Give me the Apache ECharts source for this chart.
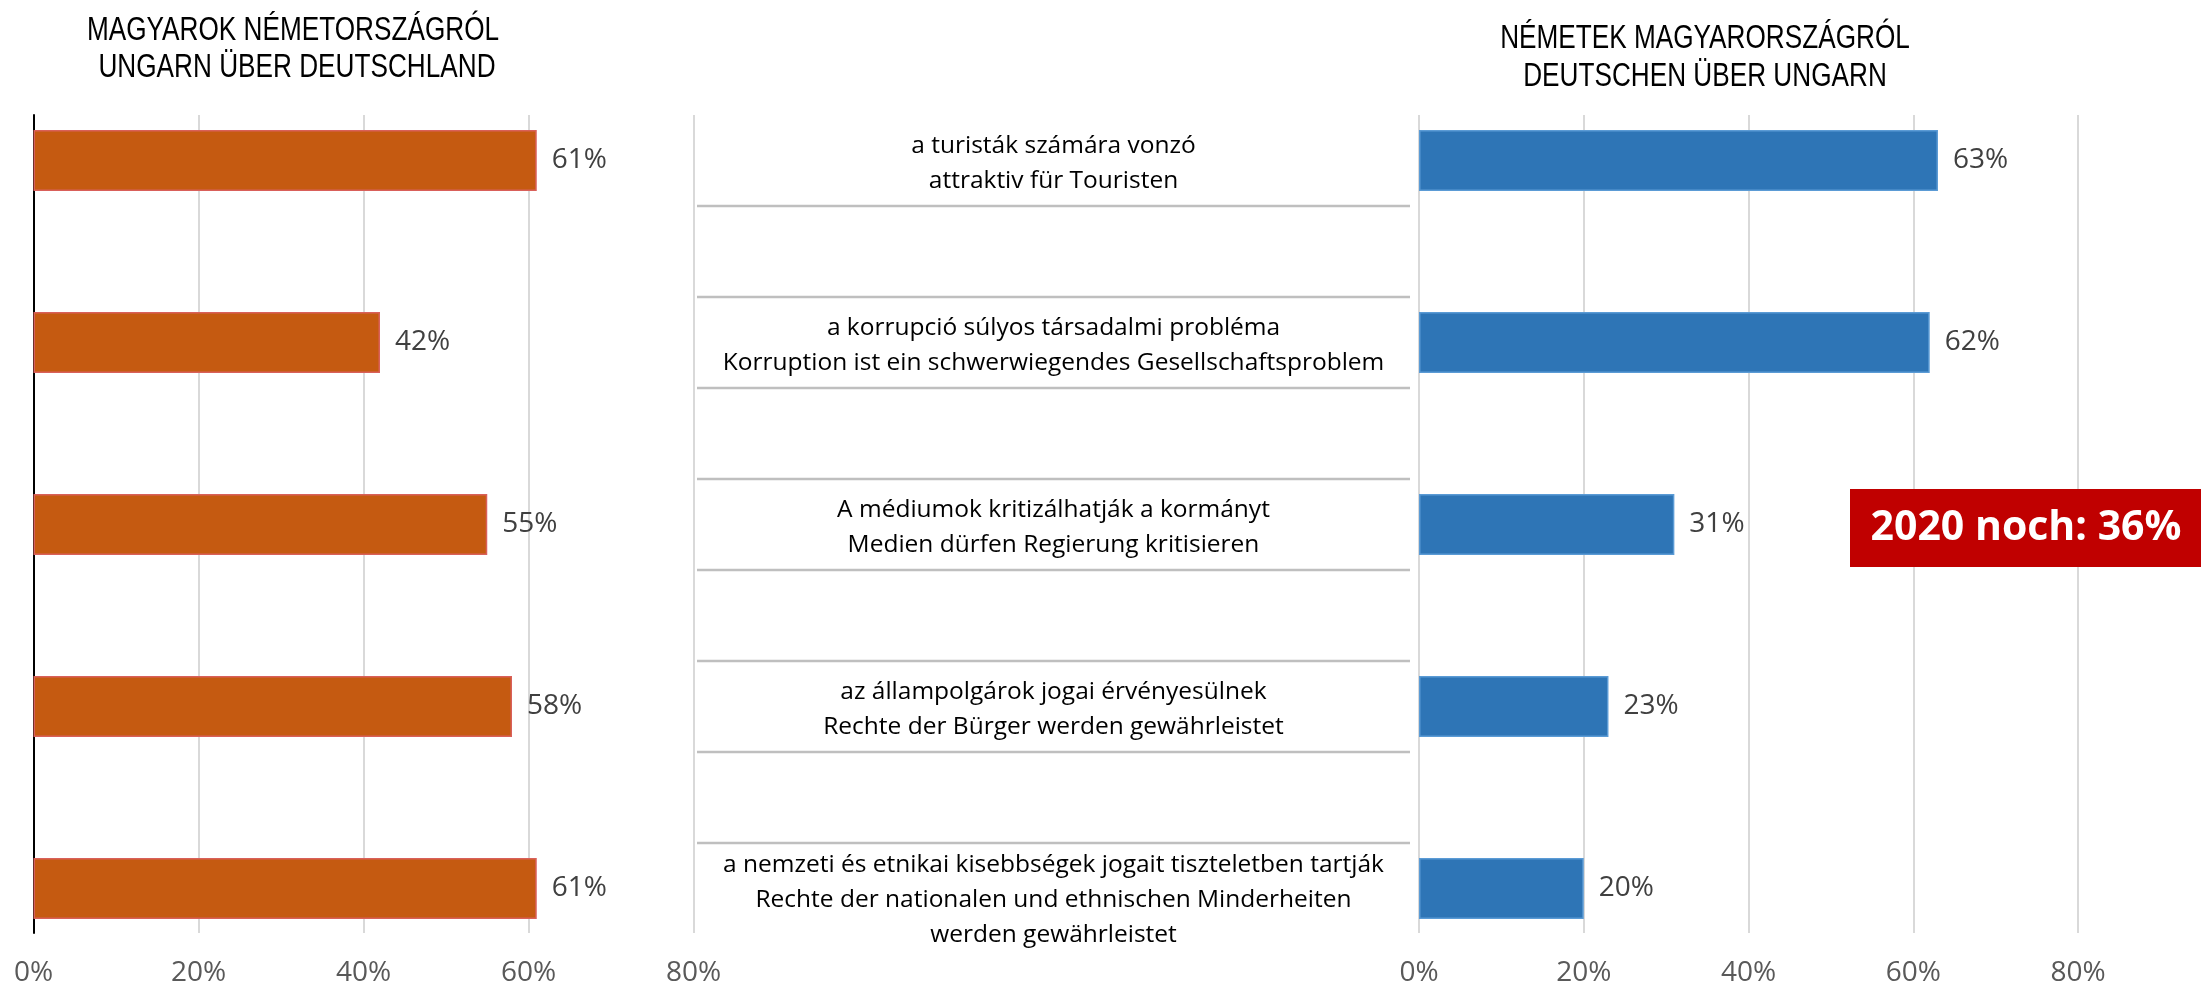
<!DOCTYPE html>
<html>
<head>
<meta charset="utf-8">
<script src="https://cdn.jsdelivr.net/npm/echarts@6/dist/echarts.min.js"></script>
<style>
  html, body { margin: 0; padding: 0; background: #fff; }
  #chart { width: 2201px; height: 988px; }
</style>
</head>
<body>
<div id="chart"></div>
<script>
// kategóriák / Kategorien (felülről lefelé)
var categories = [
  'a turisták számára vonzó\nattraktiv für Touristen',
  'a korrupció súlyos társadalmi probléma\nKorruption ist ein schwerwiegendes Gesellschaftsproblem',
  'A médiumok kritizálhatják a kormányt\nMedien dürfen Regierung kritisieren',
  'az állampolgárok jogai érvényesülnek\nRechte der Bürger werden gewährleistet',
  'a nemzeti és etnikai kisebbségek jogait tiszteletben tartják\nRechte der nationalen und ethnischen Minderheiten\nwerden gewährleistet'
]
// magyarok Németországról (%)
var huAboutDe = [61, 42, 55, 58, 61]
// németek Magyarországról (%)
var deAboutHu = [63, 62, 31, 23, 20]
// x tengely
var xTicks = [0, 20, 40, 60, 80]

var textFont = '"Open Sans", sans-serif'
var titleFont = '"Liberation Sans", Arial, sans-serif'

var chart = echarts.init(document.getElementById('chart'))

// rácsvonalas tengely (csak vonalak + feliratok)
function gridAxis(gridIndex) {
  return {
    type: 'value',
    gridIndex: gridIndex,
    min: xTicks[0],
    max: xTicks[xTicks.length - 1],
    interval: xTicks[1] - xTicks[0],
    axisLine: { show: false },
    axisTick: { show: false },
    splitLine: { show: true, lineStyle: { color: '#d9d9d9', width: 2 } },
    axisLabel: {
      formatter: '{value}%',
      margin: 26,
      color: '#595959',
      fontFamily: textFont,
      fontSize: 28
    }
  }
}
function hiddenValueAxis(gridIndex) {
  return {
    type: 'value',
    gridIndex: gridIndex,
    min: xTicks[0],
    max: xTicks[xTicks.length - 1],
    show: false
  }
}
function barSeries(idx, data, color, border) {
  return {
    type: 'bar',
    xAxisIndex: idx,
    yAxisIndex: idx,
    data: data,
    barWidth: 61,
    itemStyle: { color: color, borderColor: border, borderWidth: 1.5 },
    label: {
      show: true,
      position: 'right',
      distance: 15,
      formatter: '{c}%',
      color: '#404040',
      fontFamily: textFont,
      fontSize: 28
    }
  }
}
// keskeny címsor (Arial Narrow helyett összenyomott Liberation Sans)
function titleLine(text, x, y) {
  return {
    type: 'text', x: x, y: y, scaleX: 0.77,
    style: { text: text, align: 'center', verticalAlign: 'middle', fill: '#000', font: '34px ' + titleFont }
  }
}

chart.setOption({
  animation: false,
  grid: [
    { left: 33.5, width: 660, top: 115, height: 818 },   // bal rácsvonalak
    { left: 33.5, width: 660, top: 69.5, height: 910 },  // bal oszlopok
    { left: 1419, width: 659, top: 115, height: 818 },   // jobb rácsvonalak
    { left: 1419, width: 659, top: 69.5, height: 910 },  // jobb oszlopok
    { left: 697, width: 713, top: 69.5, height: 910 }    // középső feliratok
  ],
  xAxis: [
    gridAxis(0),
    hiddenValueAxis(1),
    gridAxis(2),
    hiddenValueAxis(3),
    { type: 'value', gridIndex: 4, min: 0, max: 1, show: false }
  ],
  yAxis: [
    {
      type: 'category', gridIndex: 0, data: categories,
      axisLine: { show: true, lineStyle: { color: '#000', width: 2 } },
      axisTick: { show: false },
      axisLabel: { show: false }
    },
    { type: 'category', gridIndex: 1, data: categories, inverse: true, show: false },
    { type: 'category', gridIndex: 2, data: categories, show: false },
    { type: 'category', gridIndex: 3, data: categories, inverse: true, show: false },
    { type: 'category', gridIndex: 4, data: categories, inverse: true, show: false }
  ],
  series: [
    barSeries(1, huAboutDe, '#c55a11', '#d9605a'),
    barSeries(3, deAboutHu, '#2e75b6', '#5b9bd5'),
    {
      type: 'custom',
      xAxisIndex: 4,
      yAxisIndex: 4,
      data: categories.map(function (c, i) { return [0.5, i] }),
      renderItem: function (params, api) {
        var i = params.dataIndex
        var n = categories.length
        var cs = params.coordSys
        var pt = api.coord([0.5, i])
        var band = api.size([0, 1])[1]
        var nLines = categories[i].split('\n').length
        var dy = 3 + (nLines - 2) * 9
        var kids = [{
          type: 'text',
          style: {
            text: categories[i],
            x: pt[0],
            y: pt[1] + dy,
            align: 'center',
            verticalAlign: 'middle',
            lineHeight: 35,
            fill: '#000',
            font: '24.5px ' + textFont
          }
        }]
        var lineStyle = { stroke: '#bfbfbf', lineWidth: 2.5 }
        if (i > 0) {
          kids.push({ type: 'line', shape: { x1: cs.x, y1: pt[1] - band / 4, x2: cs.x + cs.width, y2: pt[1] - band / 4 }, style: lineStyle })
        }
        if (i < n - 1) {
          kids.push({ type: 'line', shape: { x1: cs.x, y1: pt[1] + band / 4, x2: cs.x + cs.width, y2: pt[1] + band / 4 }, style: lineStyle })
        }
        return { type: 'group', children: kids }
      }
    }
  ],
  graphic: [
    titleLine('MAGYAROK NÉMETORSZÁGRÓL', 293, 31),
    titleLine('UNGARN ÜBER DEUTSCHLAND', 297, 68),
    titleLine('NÉMETEK MAGYARORSZÁGRÓL', 1705, 39),
    titleLine('DEUTSCHEN ÜBER UNGARN', 1705, 77),
    { type: 'rect', shape: { x: 1850, y: 489, width: 351, height: 78 }, style: { fill: '#c00000' }, z: 100 },
    { type: 'text', x: 2026, y: 528, z: 101, style: { text: '2020 noch: 36%', align: 'center', verticalAlign: 'middle', fill: '#fff', font: 'bold 41px ' + textFont } }
  ]
})
</script>
</body>
</html>
